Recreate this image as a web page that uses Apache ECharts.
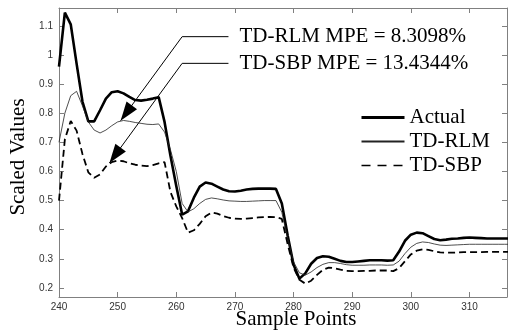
<!DOCTYPE html>
<html>
<head>
<meta charset="utf-8">
<script src="https://cdn.jsdelivr.net/npm/echarts@6/dist/echarts.min.js"></script>
<style>
  html, body { margin: 0; padding: 0; background: #fff; }
  #main { width: 508px; height: 335px; }
</style>
</head>
<body>
<div id="main"></div>
<script>
// sample index
var samples = [240, 241, 242, 243, 244, 245, 246, 247, 248, 249,
    250, 251, 252, 253, 254, 255, 256, 257, 258, 259,
    260, 261, 262, 263, 264, 265, 266, 267, 268, 269,
    270, 271, 272, 273, 274, 275, 276, 277, 278, 279,
    280, 281, 282, 283, 284, 285, 286, 287, 288, 289,
    290, 291, 292, 293, 294, 295, 296, 297, 298, 299,
    300, 301, 302, 303, 304, 305, 306, 307, 308, 309,
    310, 311, 312, 313, 314, 315, 316, 317];

var actual = [0.96, 1.145, 1.105, 0.97, 0.84, 0.772, 0.772, 0.81, 0.85, 0.872,
    0.875, 0.868, 0.856, 0.845, 0.843, 0.846, 0.85, 0.855, 0.77, 0.655,
    0.55, 0.452, 0.463, 0.51, 0.548, 0.562, 0.558, 0.548, 0.538, 0.532,
    0.531, 0.534, 0.538, 0.54, 0.541, 0.541, 0.541, 0.54, 0.49, 0.38,
    0.28, 0.232, 0.25, 0.283, 0.303, 0.309, 0.307, 0.30, 0.293, 0.289,
    0.289, 0.291, 0.293, 0.295, 0.295, 0.295, 0.294, 0.295, 0.325, 0.362,
    0.383, 0.39, 0.388, 0.378, 0.368, 0.364, 0.366, 0.369, 0.37, 0.372,
    0.373, 0.372, 0.371, 0.37, 0.37, 0.37, 0.37, 0.37];

var tdRlm = [0.70, 0.80, 0.86, 0.875, 0.825, 0.77, 0.742, 0.732, 0.742, 0.757,
    0.77, 0.775, 0.772, 0.768, 0.765, 0.762, 0.761, 0.763, 0.735, 0.675,
    0.60, 0.49, 0.461, 0.472, 0.49, 0.504, 0.509, 0.506, 0.502, 0.499,
    0.498, 0.497, 0.497, 0.498, 0.499, 0.50, 0.50, 0.50, 0.46, 0.37,
    0.29, 0.252, 0.244, 0.255, 0.27, 0.281, 0.287, 0.287, 0.284, 0.28,
    0.278, 0.278, 0.278, 0.279, 0.279, 0.279, 0.278, 0.279, 0.292, 0.318,
    0.34, 0.353, 0.358, 0.356, 0.351, 0.347, 0.346, 0.347, 0.348, 0.349,
    0.35, 0.35, 0.35, 0.35, 0.35, 0.35, 0.35, 0.35];

var tdSbp = [0.50, 0.71, 0.773, 0.74, 0.66, 0.597, 0.578, 0.59, 0.617, 0.632,
    0.637, 0.635, 0.628, 0.623, 0.62, 0.618, 0.622, 0.628, 0.632, 0.53,
    0.48, 0.44, 0.39, 0.398, 0.42, 0.446, 0.459, 0.455, 0.447, 0.441,
    0.438, 0.437, 0.438, 0.44, 0.442, 0.443, 0.444, 0.443, 0.437, 0.35,
    0.27, 0.228, 0.215, 0.225, 0.245, 0.262, 0.27, 0.268, 0.263, 0.259,
    0.258, 0.258, 0.259, 0.259, 0.26, 0.26, 0.26, 0.258, 0.268, 0.292,
    0.315, 0.328, 0.333, 0.331, 0.326, 0.322, 0.321, 0.321, 0.322, 0.323,
    0.323, 0.323, 0.323, 0.324, 0.324, 0.324, 0.324, 0.324];

var xTicks = [240, 250, 260, 270, 280, 290, 300, 310];
var yTicks = [0.2, 0.3, 0.4, 0.5, 0.6, 0.7, 0.8, 0.9, 1, 1.1];
var seriesNames = ['Actual', 'TD-RLM', 'TD-SBP'];
var mpeTexts = ['TD-RLM MPE = 8.3098%', 'TD-SBP MPE = 13.4344%'];

(function () {
    var myChart = echarts.init(document.getElementById('main'));

    function pairs(ys) {
        return samples.map(function (x, i) { return [x, ys[i]]; });
    }

    var axisGray = '#808080';
    var xMin = 240, xMax = 316.4, yMin = 0.169, yMax = 1.161;

    function baseAxis(extra) {
        var a = {
            type: 'value',
            axisLine: { show: true, lineStyle: { color: axisGray, width: 1 } },
            axisTick: { show: true, inside: true, length: 5, lineStyle: { color: axisGray } },
            splitLine: { show: false },
            axisLabel: { show: false }
        };
        for (var k in extra) a[k] = extra[k];
        return a;
    }

    var labelStyle = { color: '#333', fontFamily: 'Liberation Sans', fontSize: 10 };

    var option = {
        animation: false,
        grid: { left: 59, top: 8, width: 448, height: 289, outerBoundsMode: 'none' },
        legend: {
            orient: 'vertical',
            left: 355,
            top: 102,
            itemWidth: 43,
            itemHeight: 14,
            itemGap: 3,
            itemStyle: { opacity: 0 },
            textStyle: { color: '#000', fontFamily: 'Liberation Serif', fontSize: 21 },
            data: [
                { name: seriesNames[0], lineStyle: { width: 3 } },
                { name: seriesNames[1] },
                { name: seriesNames[2], lineStyle: { type: [9, 7], width: 1.5 } }
            ]
        },
        xAxis: [
            baseAxis({
                position: 'bottom', min: xMin, max: xMax,
                axisTick: { show: true, inside: true, length: 5, customValues: xTicks, lineStyle: { color: axisGray } },
                axisLabel: Object.assign({ show: true, margin: 5, customValues: xTicks }, labelStyle)
            }),
            baseAxis({
                position: 'top', min: xMin, max: xMax,
                axisTick: { show: true, inside: true, length: 5, customValues: xTicks, lineStyle: { color: axisGray } }
            })
        ],
        yAxis: [
            baseAxis({
                position: 'left', min: yMin, max: yMax,
                axisTick: { show: true, inside: true, length: 5, customValues: yTicks, lineStyle: { color: axisGray } },
                axisLabel: Object.assign({ show: true, margin: 6, customValues: yTicks }, labelStyle)
            }),
            baseAxis({
                position: 'right', min: yMin, max: yMax,
                axisTick: { show: true, inside: true, length: 5, customValues: yTicks, lineStyle: { color: axisGray } }
            })
        ],
        series: [
            {
                name: seriesNames[0], type: 'line', data: pairs(actual),
                symbol: 'none', clip: true,
                lineStyle: { color: '#000', width: 2.6 }, itemStyle: { color: '#000' }
            },
            {
                name: seriesNames[1], type: 'line', data: pairs(tdRlm),
                symbol: 'none', clip: true,
                lineStyle: { color: '#222', width: 0.8 }, itemStyle: { color: '#222' }
            },
            {
                name: seriesNames[2], type: 'line', data: pairs(tdSbp),
                symbol: 'none', clip: true,
                lineStyle: { color: '#000', width: 1.8, type: [7, 4] }, itemStyle: { color: '#000' }
            }
        ]
    };

    myChart.setOption(option);

    // annotation arrows: text start -> elbow -> tip (data coords)
    var annos = [
        { start: [268.9, 1.0626], elbow: [261.0, 1.0626], tip: [250.5, 0.774] },
        { start: [268.9, 0.971], elbow: [261.0, 0.971], tip: [248.6, 0.629] }
    ];

    function arrowHead(tip, from, len, half) {
        var dx = tip[0] - from[0], dy = tip[1] - from[1];
        var d = Math.sqrt(dx * dx + dy * dy);
        var ux = dx / d, uy = dy / d;
        var bx = tip[0] - ux * len, by = tip[1] - uy * len;
        return [tip, [bx - uy * half, by + ux * half], [bx + uy * half, by - ux * half]];
    }

    var graphics = [];
    annos.forEach(function (a, i) {
        var s = myChart.convertToPixel({ gridIndex: 0 }, a.start);
        var e = myChart.convertToPixel({ gridIndex: 0 }, a.elbow);
        var t = myChart.convertToPixel({ gridIndex: 0 }, a.tip);
        graphics.push({
            type: 'polyline', silent: true,
            shape: { points: [s, e, t] },
            style: { stroke: '#000', lineWidth: 1, fill: null }
        });
        graphics.push({
            type: 'polygon', silent: true,
            shape: { points: arrowHead(t, e, 19, 6.5) },
            style: { fill: '#000' }
        });
        graphics.push({
            type: 'text', silent: true,
            x: s[0] + 11, y: s[1],
            style: {
                text: mpeTexts[i], fill: '#000',
                font: '21px "Liberation Serif"',
                textAlign: 'left', textVerticalAlign: 'middle'
            }
        });
    });

    // axis titles
    graphics.push({
        type: 'text', silent: true,
        x: 296, y: 319,
        style: {
            text: 'Sample Points', fill: '#000', font: '21px "Liberation Serif"',
            textAlign: 'center', textVerticalAlign: 'middle'
        }
    });
    graphics.push({
        type: 'text', silent: true,
        x: 18, y: 157, rotation: Math.PI / 2,
        style: {
            text: 'Scaled Values', fill: '#000', font: '21px "Liberation Serif"',
            textAlign: 'center', textVerticalAlign: 'middle'
        }
    });

    myChart.setOption({ graphic: graphics });

    window.addEventListener('resize', function () {
        myChart.resize();
    });
})();
</script>
</body>
</html>
